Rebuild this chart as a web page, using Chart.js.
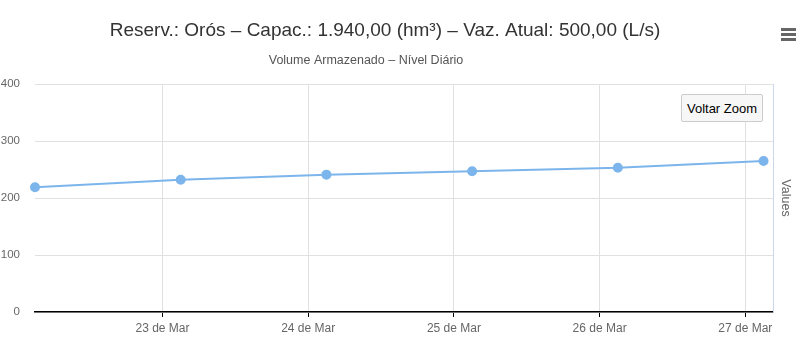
<!DOCTYPE html>
<html>
<head>
<meta charset="utf-8">
<script src="https://cdn.jsdelivr.net/npm/chart.js@4.4.1/dist/chart.umd.min.js"></script>
<style>
  body { margin: 0; background: #fff; overflow: hidden; }
  #wrap { position: absolute; left: -14px; top: 0; width: 816px; height: 351px; }
  #zoomBtn {
    position: absolute; left: 681px; top: 94px; width: 82px; height: 28px;
    background: #f7f7f7; border: 1px solid #cccccc; border-radius: 2px;
    font: 13px "Liberation Sans", Arial, sans-serif; color: #000; padding: 0; box-sizing: border-box;
  }
  #menu { position: absolute; left: 781px; top: 28px; width: 15px; }
  #menu div { height: 3px; background: #666; margin-bottom: 2px; }
</style>
</head>
<body>
<div id="wrap"><canvas id="chart-volume"></canvas></div>
<button id="zoomBtn">Voltar Zoom</button>
<div id="menu"><div></div><div></div><div></div></div>
<script>
// dados do reservatorio
var chartTitle = "Reserv.: Orós – Capac.: 1.940,00 (hm³) – Vaz. Atual: 500,00 (L/s)";
var chartSubtitle = "Volume Armazenado – Nível Diário";
var monthName = "Mar";
var readingDays = [22, 23, 24, 25, 26, 27];
var readingHour = 3;
var volumes = [219, 232, 241, 247, 253, 265];
var tickDays = [23, 24, 25, 26, 27];
var yTicks = [0, 100, 200, 300, 400];

var points = readingDays.map(function (d, i) {
  return { x: d + readingHour / 24, y: volumes[i] };
});

// titulo e subtitulo desenhados na posicao do original
var titlePlugin = {
  id: "titles",
  afterDraw: function (chart) {
    var c = chart.ctx;
    c.save();
    c.textAlign = "center";
    c.textBaseline = "middle";
    c.fillStyle = "#333333";
    c.font = '19px "Liberation Sans", Arial, sans-serif';
    c.fillText(chartTitle, 385 + 14, 31);
    c.fillStyle = "#555555";
    c.font = '12.5px "Liberation Sans", Arial, sans-serif';
    c.fillText(chartSubtitle, 366 + 14, 61);
    c.restore();
  }
};

var ctx = document.getElementById("chart-volume").getContext("2d");
var chart = new Chart(ctx, {
  type: "line",
  data: {
    datasets: [
      {
        label: "Volume",
        data: points,
        borderColor: "#7cb5ec",
        backgroundColor: "#7cb5ec",
        borderWidth: 2,
        pointRadius: 4,
        pointHoverRadius: 5,
        tension: 0,
        clip: false,
        yAxisID: "y",
      },
    ],
  },
  options: {
    responsive: true,
    maintainAspectRatio: false,
    animation: false,
    layout: { padding: { top: 84, left: 0, right: 0, bottom: 0 } },
    plugins: {
      legend: { display: false },
      tooltip: { enabled: false },
      title: { display: false },
    },
    scales: {
      x: {
        type: "linear",
        min: 22 + readingHour / 24,
        max: 27.19,
        afterBuildTicks: function (axis) {
          axis.ticks = tickDays.map(function (d) { return { value: d }; });
        },
        afterFit: function (axis) { axis.height = 39; },
        grid: {
          display: true,
          color: "#e0e0e0",
          drawTicks: true,
          tickLength: 5,
          tickColor: "#000000",
        },
        border: { display: true, color: "#000000", width: 1.5 },
        ticks: {
          padding: 4,
          maxRotation: 0,
          color: "#666666",
          font: { size: 12, family: "Liberation Sans" },
          callback: function (v) { return v + " de " + monthName; },
        },
      },
      y: {
        position: "left",
        min: 0,
        max: 400,
        afterBuildTicks: function (axis) {
          axis.ticks = yTicks.map(function (v) { return { value: v }; });
        },
        afterFit: function (axis) { axis.width = 49; },
        grid: { color: "#e0e0e0", drawTicks: false },
        border: { display: false },
        ticks: {
          padding: 15,
          color: "#666666",
          font: { size: 11.5, family: "Liberation Sans" },
        },
      },
      y1: {
        position: "right",
        min: 0,
        max: 400,
        afterFit: function (axis) { axis.width = 29; },
        grid: { display: false },
        border: { display: true, color: "#ccd6eb", width: 1 },
        ticks: { display: false },
        title: {
          display: true,
          text: "Values",
          color: "#666666",
          padding: { top: 9, bottom: 0 },
          font: { size: 12.5, family: "Liberation Sans" },
        },
      },
    },
  },
  plugins: [titlePlugin],
});
</script>
</body>
</html>
